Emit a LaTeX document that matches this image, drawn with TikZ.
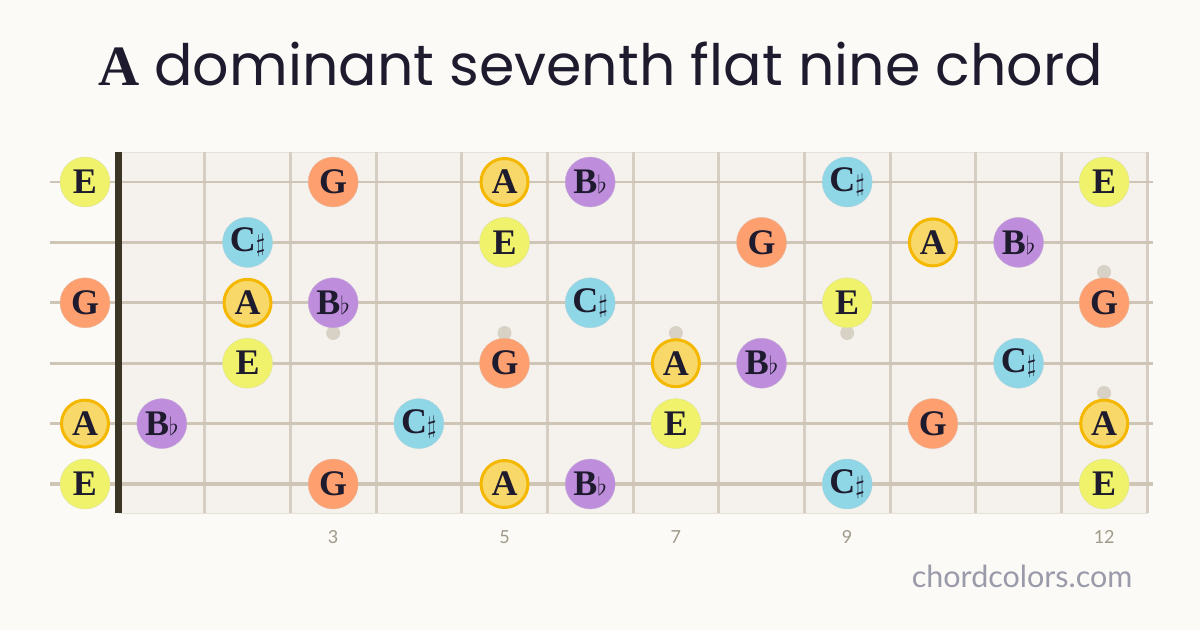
\documentclass[tikz,border=0pt]{standalone}
\usepackage{fontspec}
\setmainfont{Liberation Serif}
\newfontfamily\titlefont{Poppins}
\newfontfamily\smallfont{Lato}
\definecolor{paper}{HTML}{FBFAF6}
\definecolor{board}{HTML}{F5F2EE}
\definecolor{fretcol}{HTML}{D6CEC2}
\definecolor{stringcol}{HTML}{CEC5B7}
\definecolor{nutcol}{HTML}{3B3526}
\definecolor{inkcol}{HTML}{1E1B2E}
\definecolor{dotcol}{HTML}{D8D1C5}
\definecolor{numcol}{HTML}{A09A8A}
\definecolor{sitecol}{HTML}{9A9AAA}
\definecolor{colE}{HTML}{EFF26A}
\definecolor{colG}{HTML}{FD9F6E}
\definecolor{colA}{HTML}{F9D86A}
\definecolor{colAb}{HTML}{F5B800}
\definecolor{colBb}{HTML}{BE8DDC}
\definecolor{colC}{HTML}{8FD6E6}
\begin{document}
\begin{tikzpicture}[x=1pt,y=-1pt,
    note/.style={circle,minimum size=50pt,inner sep=0pt,text=inkcol,
        font=\fontsize{36}{36}\selectfont\bfseries},
    cE/.style={note,fill=colE,draw=colE!85!black!60,line width=0.4pt},
    cG/.style={note,fill=colG,draw=colG!85!black!60,line width=0.4pt},
    cA/.style={note,fill=colA,draw=colAb,line width=3pt,minimum size=47pt},
    cBb/.style={note,fill=colBb,draw=colBb!85!black!60,line width=0.4pt},
    cCs/.style={note,fill=colC,draw=colC!85!black!60,line width=0.4pt},
    inlay/.style={circle,fill=dotcol,minimum size=14pt,inner sep=0pt},
    fretnum/.style={font=\smallfont\fontsize{18}{18}\selectfont,text=numcol}]
    %page and board
    \fill[paper] (0,0) rectangle (1200,630);
    \useasboundingbox (0,0) rectangle (1200,630);
    \fill[board,draw=fretcol!60] (119,152) rectangle (1147,513);

    %title
    \node[text=inkcol] (title) at (601,64)
        {\fontsize{57}{57}\selectfont{\bfseries A}\ \titlefont dominant seventh flat nine chord};

    %frets
    \foreach \f in {1,...,12}
        \draw[fretcol,line width=3pt] (119+\f*85.67,152) -- (119+\f*85.67,513);

    %strings, thicker towards the bass
    \foreach \s/\w in {1/2,2/2.4,3/2.8,4/3.2,5/3.6,6/4}
        \draw[stringcol,line width=\w pt] (50,182+\s*60.4-60.4) -- (1153,182+\s*60.4-60.4);

    %nut
    \fill[nutcol] (115,152) rectangle (122,513);

    %inlays
    \foreach \f in {3,5,7,9}
        \node[inlay] (dot\f) at (119+\f*85.67-42.83,333) {};
    \node[inlay] (dot12a) at (1104,272) {};
    \node[inlay] (dot12b) at (1104,393) {};

    %notes: string/fret/colour/label
    \foreach \s/\f/\c/\n in {
        1/0/E/E, 1/3/G/G, 1/5/A/A, 1/6/Bb/{B$\flat$}, 1/9/Cs/{C$\sharp$}, 1/12/E/E,
        2/2/Cs/{C$\sharp$}, 2/5/E/E, 2/8/G/G, 2/10/A/A, 2/11/Bb/{B$\flat$},
        3/0/G/G, 3/2/A/A, 3/3/Bb/{B$\flat$}, 3/6/Cs/{C$\sharp$}, 3/9/E/E, 3/12/G/G,
        4/2/E/E, 4/5/G/G, 4/7/A/A, 4/8/Bb/{B$\flat$}, 4/11/Cs/{C$\sharp$},
        5/0/A/A, 5/1/Bb/{B$\flat$}, 5/4/Cs/{C$\sharp$}, 5/7/E/E, 5/10/G/G, 5/12/A/A,
        6/0/E/E, 6/3/G/G, 6/5/A/A, 6/6/Bb/{B$\flat$}, 6/9/Cs/{C$\sharp$}, 6/12/E/E}
        \node[c\c] (n\s-\f) at ({\f==0 ? 85 : 119+\f*85.67-42.83},182+\s*60.4-60.4) {\n};

    %fret numbers
    \foreach \f in {3,5,7,9,12}
        \node[fretnum] (num\f) at (119+\f*85.67-42.83,537) {\f};

    \node[anchor=base east,font=\smallfont\fontsize{30.5}{30.5}\selectfont,text=sitecol]
        (site) at (1136,587) {chordcolors.com};
\end{tikzpicture}
\end{document}
